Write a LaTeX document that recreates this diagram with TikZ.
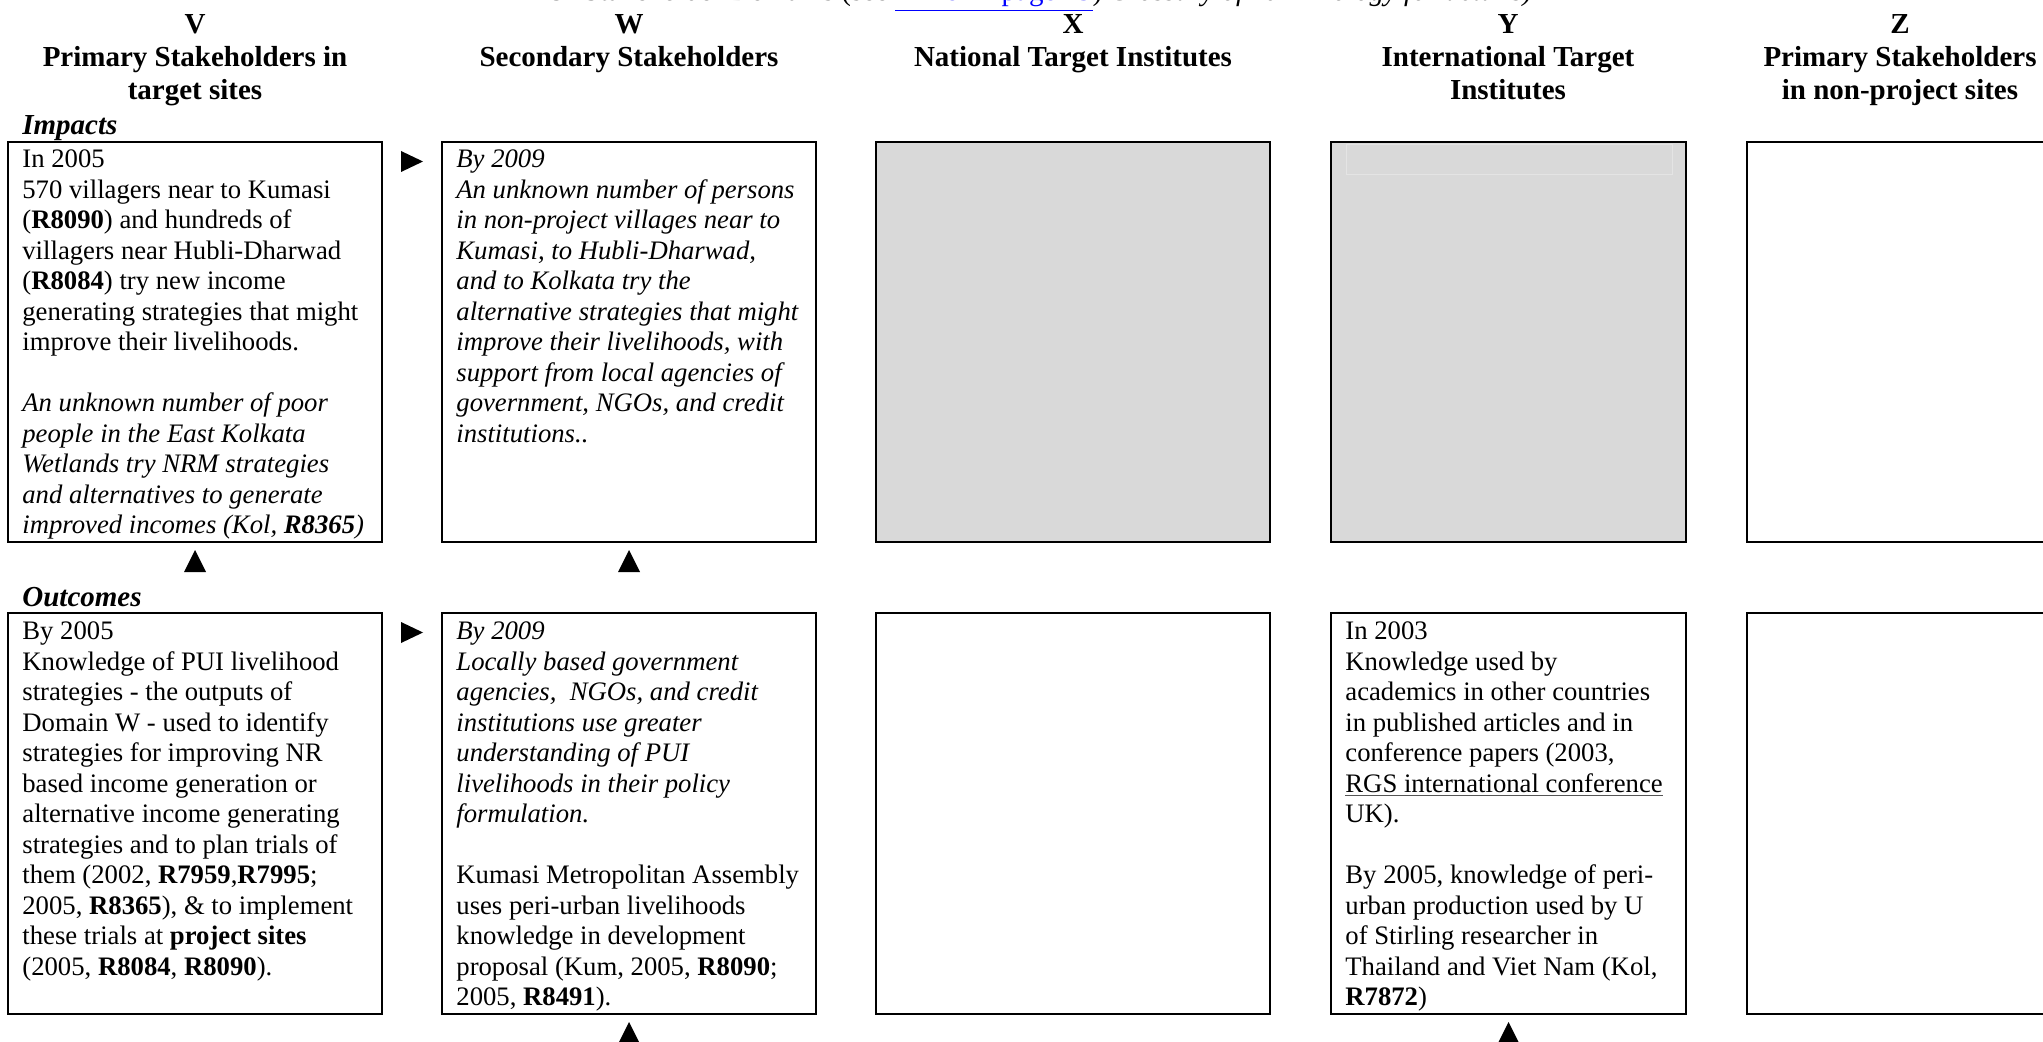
\documentclass[tikz,border=0pt]{standalone}
\usepackage{fontspec}
\setmainfont{Liberation Serif}
\usetikzlibrary{calc}
\definecolor{boxgray}{HTML}{D9D9D9}
\definecolor{framegray}{HTML}{E4E4E4}
\definecolor{linkblue}{HTML}{0000FF}
\definecolor{ulgray}{HTML}{555555}
\begin{document}
\begin{tikzpicture}[x=0.5pt,y=-0.5pt,
  box/.style={draw=black,line width=1pt,anchor=north west,inner sep=0pt,outer sep=0pt},
  body/.style={anchor=north west,inner sep=0pt,align=left,font=\fontsize{13.35}{15.25}\selectfont},
  bodyit/.style={body,font=\fontsize{13.35}{15.25}\selectfont\itshape},
  head/.style={anchor=north,inner sep=0pt,align=center,font=\fontsize{14.5}{16.5}\selectfont\bfseries},
  sect/.style={anchor=base west,inner sep=0pt,font=\fontsize{14.5}{16.5}\selectfont\bfseries\itshape},
  uptri/.pic={\fill[black] (-11,11) -- (11,11) -- (0,-11) -- cycle;},
  rtri/.pic={\fill[black] (-11,-10.5) -- (-11,10.5) -- (11,0) -- cycle;}]
\useasboundingbox (0,0) rectangle (2043,1042);
\fill[white] (0,0) rectangle (2043,1042);

% title (cut off at the top edge)
\node[anchor=base,inner sep=0pt,font=\fontsize{14.5}{16.5}\selectfont] (title) at (1031,1)
  {PUI Stakeholder Domains (see \textcolor{linkblue}{\underline{Annex 1 page 29}}) \textit{Glossary of Terminology for details)}};

% column headings
\node[head] (hV) at (195,9.9) {\strut V\\ Primary Stakeholders in\\ target sites};
\node[head] (hW) at (629,9.9) {\strut W\\ Secondary Stakeholders};
\node[head] (hX) at (1073,9.9) {\strut X\\ National Target Institutes};
\node[head] (hY) at (1508,9.9) {\strut Y\\ International Target\\ Institutes};
\node[head] (hZ) at (1900,9.9) {\strut Z\\ Primary Stakeholders\\ in non-project sites};

% row labels
\node[sect] (impacts) at (22,135) {Impacts};
\node[sect] (outcomes) at (22,606) {Outcomes};

% impact boxes
\node[box,minimum width=187pt,minimum height=200pt] (vimp) at (8,142) {};
\node[box,minimum width=187pt,minimum height=200pt] (wimp) at (442,142) {};
\node[box,fill=boxgray,minimum width=197pt,minimum height=200pt] (ximp) at (876,142) {};
\node[box,fill=boxgray,minimum width=177.5pt,minimum height=200pt] (yimp) at (1331,142) {};
\node[draw=framegray,line width=0.6pt,anchor=north west,inner sep=0pt,minimum width=163pt,minimum height=15pt] (yframe) at (1346,144) {};
\node[box,minimum width=155pt,minimum height=200pt] (zimp) at (1747,142) {};

% outcome boxes
\node[box,minimum width=187pt,minimum height=200.5pt] (vout) at (8,613) {};
\node[box,minimum width=187pt,minimum height=200.5pt] (wout) at (442,613) {};
\node[box,minimum width=197pt,minimum height=200.5pt] (xout) at (876,613) {};
\node[box,minimum width=177.5pt,minimum height=200.5pt] (yout) at (1331,613) {};
\node[box,minimum width=155pt,minimum height=200.5pt] (zout) at (1747,613) {};

% texts
\node[body] (vimpT) at ($(vimp.north west)+(14,4)$) {\strut In 2005\\
570 villagers near to Kumasi\\
(\textbf{R8090}) and hundreds of\\
villagers near Hubli-Dharwad\\
(\textbf{R8084}) try new income\\
generating strategies that might\\
improve their livelihoods.\\[15.25pt]
\textit{An unknown number of poor}\\
\textit{people in the East Kolkata}\\
\textit{Wetlands try NRM strategies}\\
\textit{and alternatives to generate}\\
\textit{improved incomes (Kol, \textbf{R8365})}};

\node[bodyit] (wimpT) at ($(wimp.north west)+(14,4)$) {\strut By 2009\\
An unknown number of persons\\
in non-project villages near to\\
Kumasi, to Hubli-Dharwad,\\
and to Kolkata try the\\
alternative strategies that might\\
improve their livelihoods, with\\
support from local agencies of\\
government, NGOs, and credit\\
institutions..};

\node[body] (voutT) at ($(vout.north west)+(14,5)$) {\strut By 2005\\
Knowledge of PUI livelihood\\
strategies - the outputs of\\
Domain W - used to identify\\
strategies for improving NR\\
based income generation or\\
alternative income generating\\
strategies and to plan trials of\\
them (2002, \textbf{R7959},\textbf{R7995};\\
2005, \textbf{R8365}), \& to implement\\
these trials at \textbf{project sites}\\
(2005, \textbf{R8084}, \textbf{R8090}).};

\node[body] (woutT) at ($(wout.north west)+(14,5)$) {\strut\textit{By 2009}\\
\textit{Locally based government}\\
\textit{agencies,\ \ NGOs, and credit}\\
\textit{institutions use greater}\\
\textit{understanding of PUI}\\
\textit{livelihoods in their policy}\\
\textit{formulation.}\\[15.25pt]
Kumasi Metropolitan Assembly\\
uses peri-urban livelihoods\\
knowledge in development\\
proposal (Kum, 2005, \textbf{R8090};\\
2005, \textbf{R8491}).};

\node[body] (youtT) at ($(yout.north west)+(14,5)$) {\strut In 2003\\
Knowledge used by\\
academics in other countries\\
in published articles and in\\
conference papers (2003,\\
{\color{ulgray}\underline{\color{black}RGS international conference}}\\
UK).\\[15.25pt]
By 2005, knowledge of peri-\\
urban production used by U\\
of Stirling researcher in\\
Thailand and Viet Nam (Kol,\\
\textbf{R7872})};

% arrow markers
\pic at ($(vimp.north east)+(30,19.5)$) {rtri};
\pic at ($(vout.north east)+(30,19.5)$) {rtri};
\pic at ($(vimp.south)+(0,19)$) {uptri};
\pic at ($(wimp.south)+(0,19)$) {uptri};
\pic at ($(wout.south)+(0,19)$) {uptri};
\pic at ($(yout.south)+(0,19)$) {uptri};
\end{tikzpicture}
\end{document}
